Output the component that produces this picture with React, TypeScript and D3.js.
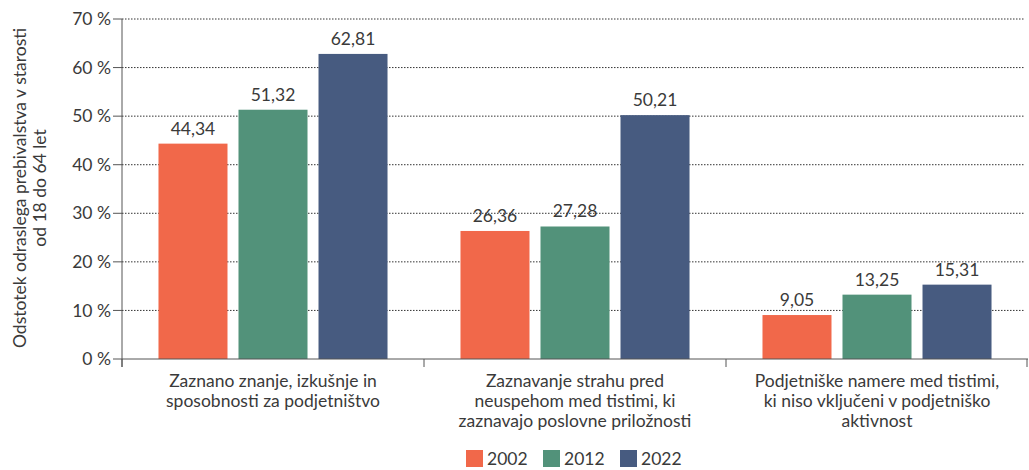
import React from "react";
import * as d3 from "d3";

const categories = [
  ["Zaznano znanje, izkušnje in", "sposobnosti za podjetništvo"],
  ["Zaznavanje strahu pred", "neuspehom med tistimi, ki", "zaznavajo poslovne priložnosti"],
  ["Podjetniške namere med tistimi,", "ki niso vključeni v podjetniško", "aktivnost"],
];
const years = ["2002", "2012", "2022"];
const v2002 = [44.34, 26.36, 9.05];
const v2012 = [51.32, 27.28, 13.25];
const v2022 = [62.81, 50.21, 15.31];
const yTicks = [0, 10, 20, 30, 40, 50, 60, 70];
const colors = ["#F1684A", "#52927A", "#475B80"];

const W = 1029, H = 470;
const margin = { left: 122, right: 1, top: 19, bottom: 111 };
const font = "'Source Sans Pro', Lato, 'Noto Sans', sans-serif";
const fs = 17.5;

export default function App() {
  const series = [v2002, v2012, v2022];
  const x0 = d3.scaleBand<number>().domain(d3.range(categories.length)).range([margin.left, W - margin.right]);
  const x1 = d3.scaleBand<number>().domain([0, 1, 2]).range([0, x0.bandwidth()]).paddingInner(0.1375).paddingOuter(0.456);
  const y = d3.scaleLinear().domain([0, 70]).range([H - margin.bottom, margin.top]);
  const fmt = (v: number) => v.toFixed(2).replace(".", ",");
  const textColor = "#3a3a3a";
  return (
    <svg width={W} height={H} style={{ position: "absolute", left: 0, top: 0 }} fontFamily={font}>
      {yTicks.filter(t => t > 0).map(t => (
        <line key={"g" + t} x1={margin.left} x2={W - 4} y1={y(t)} y2={y(t)} stroke="#333" strokeWidth={1} strokeDasharray="1.5,1.5" />
      ))}
      {yTicks.map(t => (
        <g key={"t" + t}>
          <line x1={margin.left - 9} x2={margin.left} y1={y(t)} y2={y(t)} stroke="#555" />
          <text x={margin.left - 11} y={y(t)} dy="0.35em" textAnchor="end" fontSize={fs} fill={textColor}>{t} %</text>
        </g>
      ))}
      {categories.map((c, i) => (
        <g key={"c" + i}>
          {series.map((s, j) => {
            const bx = x0(i)! + x1(j)!;
            return (
              <g key={j}>
                <rect x={bx} y={y(s[i])} width={x1.bandwidth()} height={y(0) - y(s[i])} fill={colors[j]} />
                <text x={bx + x1.bandwidth() / 2} y={y(s[i]) - 9} textAnchor="middle" fontSize={fs} fill={textColor}>{fmt(s[i])}</text>
              </g>
            );
          })}
          {c.map((line, k) => (
            <text key={k} x={x0(i)! + x0.bandwidth() / 2} y={y(0) + 28 + k * 20} textAnchor="middle" fontSize={fs} fill={textColor}>{line}</text>
          ))}
        </g>
      ))}
      <line x1={margin.left} x2={margin.left} y1={y(70)} y2={y(0) + 8} stroke="#555" />
      <line x1={margin.left} x2={W - margin.right} y1={y(0)} y2={y(0)} stroke="#555" />
      {d3.range(categories.length + 1).map(i => {
        const xx = i < categories.length ? x0(i)! : W - margin.right - 1;
        return <line key={"xt" + i} x1={xx} x2={xx} y1={y(0)} y2={y(0) + 8} stroke="#555" />;
      })}
      <g transform="translate(20,188) rotate(-90)">
        <text x={0} y={0} textAnchor="middle" dy="0.35em" fontSize={fs} fill={textColor}>Odstotek odraslega prebivalstva v starosti</text>
        <text x={0} y={20} textAnchor="middle" dy="0.35em" fontSize={fs} fill={textColor}>od 18 do 64 let</text>
      </g>
      {years.map((yr, j) => {
        const lx = 466 + j * 77;
        return (
          <g key={"l" + j}>
            <rect x={lx} y={450} width={17} height={17} fill={colors[j]} />
            <text x={lx + 21} y={459} dy="0.35em" fontSize={fs} fill={textColor}>{yr}</text>
          </g>
        );
      })}
    </svg>
  );
}
